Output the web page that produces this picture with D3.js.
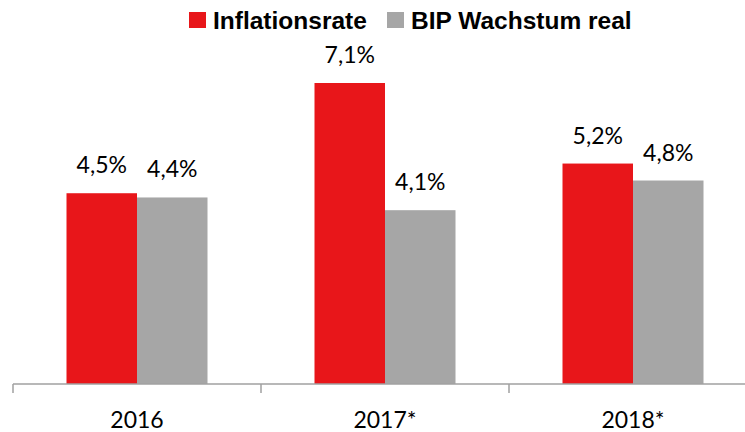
<!DOCTYPE html>
<html>
<head>
    <meta charset="utf-8">
    <title>Inflation und BIP</title>
    <script src="https://d3js.org/d3.v7.min.js"></script>
    <style>
        body { margin: 0; background: #fff; }
        svg { display: block; }
    </style>
</head>
<body>
    <svg width="745" height="432"></svg>

    <script>
        // Daten
        var years = ["2016", "2017*", "2018*"];
        var seriesNames = ["Inflationsrate", "BIP Wachstum real"];
        var inflation = [4.5, 7.1, 5.2];
        var gdp = [4.4, 4.1, 4.8];
        var colors = ["#e8161a", "#a6a6a6"];

        var svg = d3.select("svg");
        var baseY = 384;

        // x: ein Band pro Jahr, ca. 248px breit, ab x=13
        var x = d3.scaleBand()
            .domain(years)
            .range([13, 13 + 248 * 3])
            .paddingInner(0)
            .paddingOuter(0);

        var x1 = d3.scaleBand()
            .domain(seriesNames)
            .range([0, 141])
            .padding(0);

        var y = d3.scaleLinear()
            .domain([0, 7.1])
            .range([baseY, 83]);

        var rows = years.map(function (yr, i) {
            return { year: yr, values: [inflation[i], gdp[i]] };
        });

        var groups = svg.append("g")
            .selectAll("g")
            .data(rows)
            .enter()
            .append("g")
            .attr("transform", function (d) {
                return "translate(" + (x(d.year) + x.bandwidth() / 2 - 70.5) + ",0)";
            });

        groups.selectAll("rect")
            .data(function (d) { return d.values; })
            .enter()
            .append("rect")
            .attr("x", function (d, i) { return x1(seriesNames[i]); })
            .attr("width", x1.bandwidth())
            .attr("y", function (d) { return y(d); })
            .attr("height", function (d) { return baseY - y(d); })
            .attr("fill", function (d, i) { return colors[i]; });

        groups.selectAll("text")
            .data(function (d) { return d.values; })
            .enter()
            .append("text")
            .attr("x", function (d, i) { return x1(seriesNames[i]) + x1.bandwidth() / 2; })
            .attr("y", function (d) { return y(d) - 20; })
            .attr("text-anchor", "middle")
            .attr("font-family", "Lato, 'Open Sans', sans-serif")
            .attr("font-size", 23)
            .attr("fill", "#000")
            .text(function (d) { return d.toFixed(1).replace(".", ",") + "%"; });

        // x-Achse
        var axis = svg.append("g")
            .attr("transform", "translate(0," + baseY + ")")
            .call(d3.axisBottom(x).tickSize(0).tickPadding(28));
        axis.select(".domain").remove();
        axis.selectAll("text")
            .attr("font-family", "Lato, 'Open Sans', sans-serif")
            .attr("font-size", 23)
            .attr("fill", "#000");

        axis.append("line")
            .attr("x1", 13).attr("x2", 745)
            .attr("y1", 0).attr("y2", 0)
            .attr("stroke", "#a0a0a0")
            .attr("stroke-width", 1.5);

        axis.selectAll(".sep")
            .data(years)
            .enter()
            .append("line")
            .attr("class", "sep")
            .attr("x1", function (d) { return x(d); })
            .attr("x2", function (d) { return x(d); })
            .attr("y1", 0).attr("y2", 9)
            .attr("stroke", "#a0a0a0")
            .attr("stroke-width", 1.5);

        // Legende
        var legendX = [189, 387];
        var legend = svg.append("g")
            .selectAll("g")
            .data(seriesNames)
            .enter()
            .append("g")
            .attr("transform", function (d, i) { return "translate(" + legendX[i] + ",12)"; });

        legend.append("rect")
            .attr("width", 17)
            .attr("height", 16)
            .attr("fill", function (d, i) { return colors[i]; });

        legend.append("text")
            .attr("x", 24)
            .attr("y", 16.5)
            .attr("font-family", "'Liberation Sans', Arial, sans-serif")
            .attr("font-weight", "bold")
            .attr("font-size", 24.5)
            .attr("fill", "#000")
            .text(function (d) { return d; });
    </script>
</body>
</html>
